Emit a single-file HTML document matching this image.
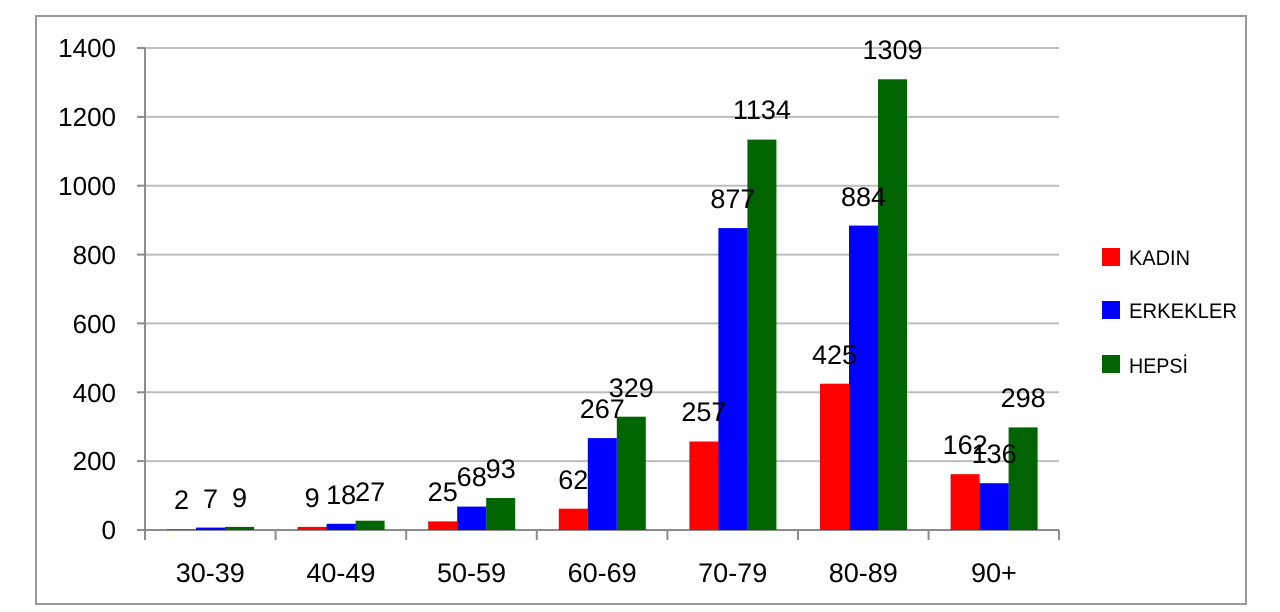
<!DOCTYPE html>
<html><head><meta charset="utf-8"><style>
html,body{margin:0;padding:0;background:#fff;}
svg{display:block;}
text{font-family:"Liberation Sans",sans-serif;fill:#000;}
</style></head><body>
<svg width="1280" height="612" viewBox="0 0 1280 612" xmlns="http://www.w3.org/2000/svg">
<rect x="36" y="16" width="1210" height="588" fill="#fff" stroke="#9a9a9a" stroke-width="2"/>
<g stroke="#bdbdbd" stroke-width="2">
<line x1="145" y1="48" x2="1059" y2="48"/>
<line x1="145" y1="116.9" x2="1059" y2="116.9"/>
<line x1="145" y1="185.7" x2="1059" y2="185.7"/>
<line x1="145" y1="254.6" x2="1059" y2="254.6"/>
<line x1="145" y1="323.4" x2="1059" y2="323.4"/>
<line x1="145" y1="392.3" x2="1059" y2="392.3"/>
<line x1="145" y1="461.1" x2="1059" y2="461.1"/>
</g>
<g stroke="#8c8c8c" stroke-width="2">
<line x1="145" y1="48" x2="145" y2="530"/>
<line x1="137" y1="48" x2="145" y2="48"/>
<line x1="137" y1="116.9" x2="145" y2="116.9"/>
<line x1="137" y1="185.7" x2="145" y2="185.7"/>
<line x1="137" y1="254.6" x2="145" y2="254.6"/>
<line x1="137" y1="323.4" x2="145" y2="323.4"/>
<line x1="137" y1="392.3" x2="145" y2="392.3"/>
<line x1="137" y1="461.1" x2="145" y2="461.1"/>
<line x1="137" y1="530" x2="1059" y2="530"/>
<line x1="145" y1="530" x2="145" y2="540"/>
<line x1="275.6" y1="530" x2="275.6" y2="540"/>
<line x1="406.2" y1="530" x2="406.2" y2="540"/>
<line x1="536.8" y1="530" x2="536.8" y2="540"/>
<line x1="667.4" y1="530" x2="667.4" y2="540"/>
<line x1="798" y1="530" x2="798" y2="540"/>
<line x1="928.6" y1="530" x2="928.6" y2="540"/>
<line x1="1059" y1="530" x2="1059" y2="540"/>
</g>
<g font-size="26" text-anchor="end">
<text x="116" y="57">1400</text>
<text x="116" y="126">1200</text>
<text x="116" y="195">1000</text>
<text x="116" y="264">800</text>
<text x="116" y="333">600</text>
<text x="116" y="402">400</text>
<text x="116" y="470">200</text>
<text x="116" y="539">0</text>
</g>
<g font-size="27" text-anchor="middle">
<text x="210.3" y="582">30-39</text>
<text x="340.9" y="582">40-49</text>
<text x="471.5" y="582">50-59</text>
<text x="602.1" y="582">60-69</text>
<text x="732.7" y="582">70-79</text>
<text x="863.3" y="582">80-89</text>
<text x="993.9" y="582">90+</text>
</g>
<g>
<rect x="167" y="529.3" width="29" height="0.7" fill="#ff0000"/>
<rect x="196" y="527.6" width="29" height="2.4" fill="#0000ff"/>
<rect x="225" y="526.9" width="29" height="3.1" fill="#006400"/>
<rect x="297.6" y="526.9" width="29" height="3.1" fill="#ff0000"/>
<rect x="326.6" y="523.8" width="29" height="6.2" fill="#0000ff"/>
<rect x="355.6" y="520.7" width="29" height="9.3" fill="#006400"/>
<rect x="428.2" y="521.4" width="29" height="8.6" fill="#ff0000"/>
<rect x="457.2" y="506.6" width="29" height="23.4" fill="#0000ff"/>
<rect x="486.2" y="498" width="29" height="32" fill="#006400"/>
<rect x="558.8" y="508.7" width="29" height="21.3" fill="#ff0000"/>
<rect x="587.8" y="438.1" width="29" height="91.9" fill="#0000ff"/>
<rect x="616.8" y="416.7" width="29" height="113.3" fill="#006400"/>
<rect x="689.4" y="441.5" width="29" height="88.5" fill="#ff0000"/>
<rect x="718.4" y="228.1" width="29" height="301.9" fill="#0000ff"/>
<rect x="747.4" y="139.6" width="29" height="390.4" fill="#006400"/>
<rect x="820" y="383.7" width="29" height="146.3" fill="#ff0000"/>
<rect x="849" y="225.6" width="29" height="304.4" fill="#0000ff"/>
<rect x="878" y="79.3" width="29" height="450.7" fill="#006400"/>
<rect x="950.6" y="474.2" width="29" height="55.8" fill="#ff0000"/>
<rect x="979.6" y="483.2" width="29" height="46.8" fill="#0000ff"/>
<rect x="1008.6" y="427.4" width="29" height="102.6" fill="#006400"/>
</g>
<g font-size="27" text-anchor="middle">
<text x="181.5" y="509">2</text><text x="210.5" y="508">7</text><text x="239.5" y="507">9</text>
<text x="312.1" y="507">9</text><text x="341.1" y="504">18</text><text x="370.1" y="501">27</text>
<text x="442.7" y="501">25</text><text x="471.7" y="486">68</text><text x="500.7" y="478">93</text>
<text x="573.3" y="489">62</text><text x="602.3" y="418">267</text><text x="631.3" y="397">329</text>
<text x="703.9" y="421">257</text><text x="732.9" y="208">877</text><text x="761.9" y="119">1134</text>
<text x="834.5" y="364">425</text><text x="863.5" y="206">884</text><text x="892.5" y="59">1309</text>
<text x="965.1" y="454">162</text><text x="994.1" y="463">136</text><text x="1023.1" y="407">298</text>
</g>
<rect x="1102" y="248" width="18" height="18" fill="#ff0000"/>
<rect x="1102" y="301" width="18" height="18" fill="#0000ff"/>
<rect x="1102" y="355" width="18" height="18" fill="#006400"/>
<g font-size="21">
<text x="1129" y="265" textLength="61" lengthAdjust="spacingAndGlyphs">KADIN</text>
<text x="1129" y="318" textLength="108" lengthAdjust="spacingAndGlyphs">ERKEKLER</text>
<text x="1129" y="373" textLength="59" lengthAdjust="spacingAndGlyphs">HEPSİ</text>
</g>
</svg>
</body></html>
